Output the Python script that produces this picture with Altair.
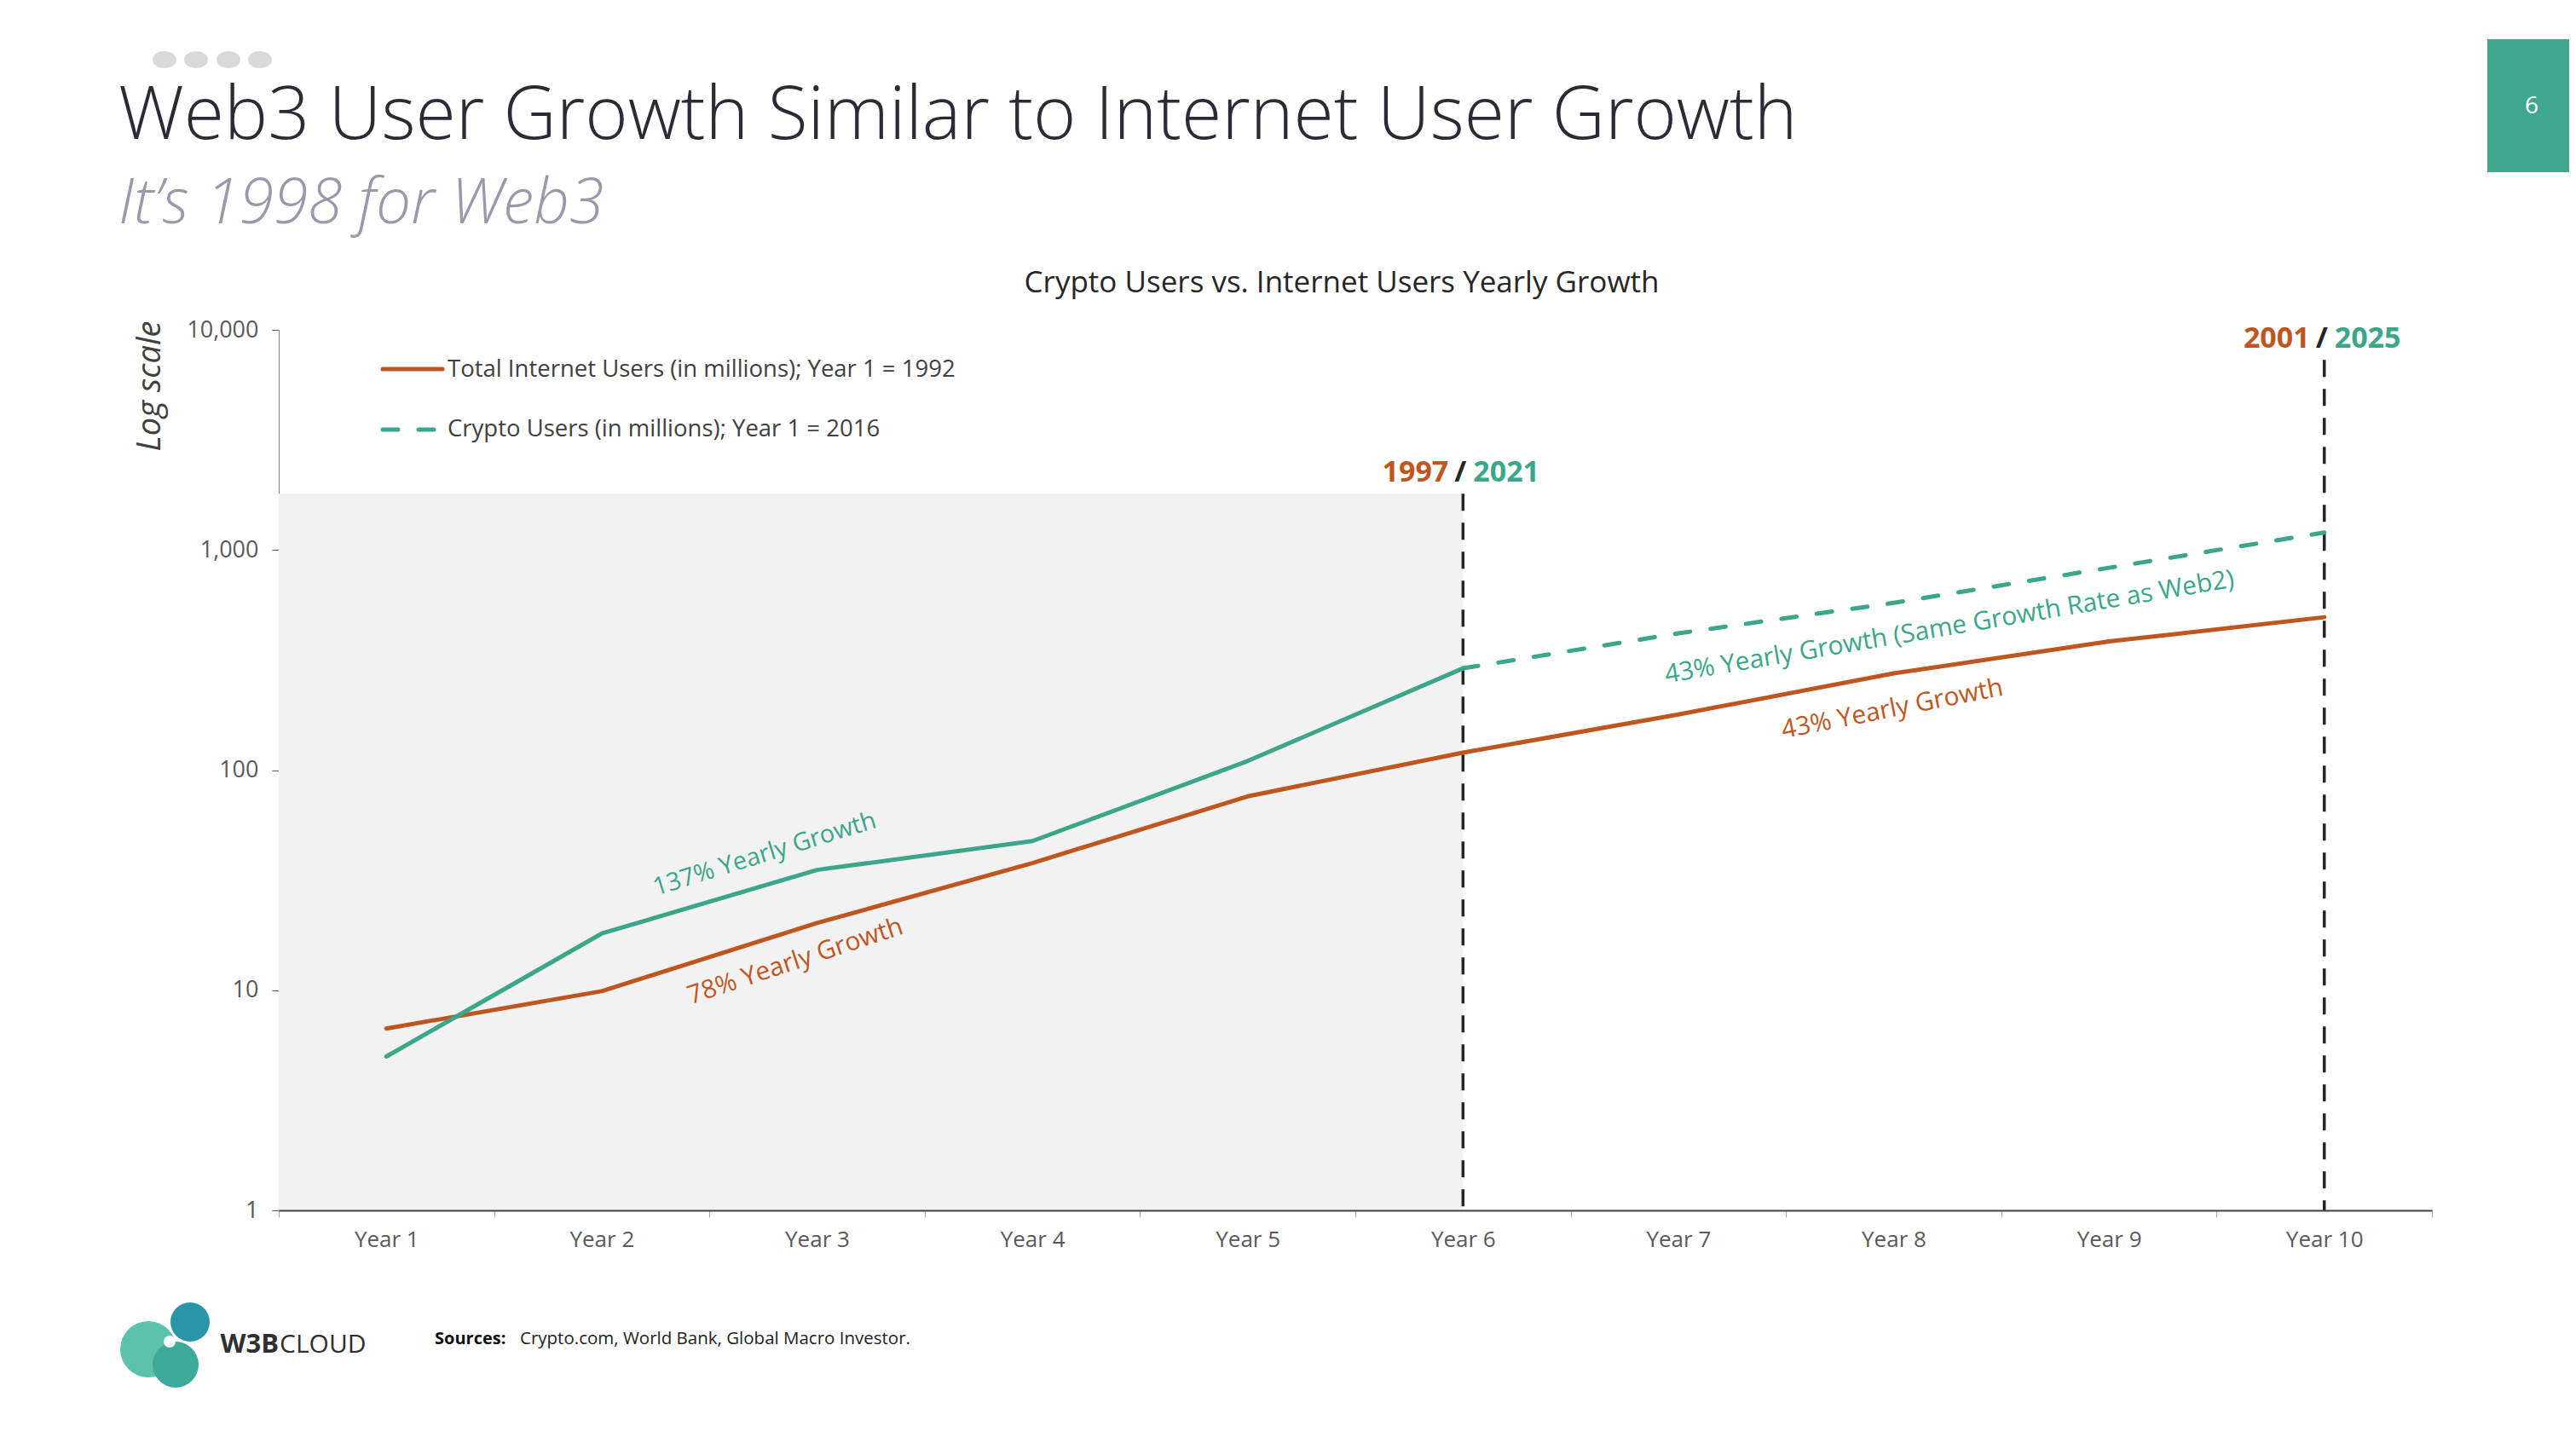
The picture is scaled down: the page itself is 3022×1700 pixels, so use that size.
import altair as alt
import pandas as pd

# ---------------- data ----------------
years = ["Year 1", "Year 2", "Year 3", "Year 4", "Year 5",
         "Year 6", "Year 7", "Year 8", "Year 9", "Year 10"]
internet_users = [6.7, 9.9, 20.2, 37.8, 76, 120, 179, 275, 384, 495]
crypto_years = ["Year 1", "Year 2", "Year 3", "Year 4", "Year 5", "Year 6"]
crypto_users = [5.0, 18.1, 35.2, 47.6, 110, 290]
projection_years = ["Year 6", "Year 7", "Year 8", "Year 9", "Year 10"]
crypto_projection = [290, 418, 575, 830, 1200]
shade_from = ["Year 1"]
shade_to = ["Year 6"]
shade_top = [1800]
marker_years = ["Year 6", "Year 10"]
marker_tops = [1800, 7300]
marker_internet_year = ["1997", "2001"]
marker_crypto_year = ["2021", "2025"]
y_ticks = [1, 10, 100, 1000, 10000]

# ---------------- style ----------------
FONT = "Open Sans"
ORANGE = "#C0561F"
GREEN = "#3BA68A"
DARK = "#262626"
OX, OY = 327, 387          # page position of plot origin
W, H = 2526, 1033          # plot area
TOTAL_W, TOTAL_H = 3006, 1660

def px(x):
    return x - OX

def py(y):
    return y - OY

x_scale = alt.Scale(type="band", domain=years, paddingInner=0, paddingOuter=0)
y_scale = alt.Scale(type="log", domain=[1, 10000], nice=False)

x_axis = alt.Axis(title=None, labelFont=FONT, labelFontSize=26, labelColor="#595959",
                  domainColor="#404040", domainWidth=2, tickColor="#a6a6a6", tickSize=8,
                  tickWidth=1, tickBand="extent", labelPadding=13, labelAngle=0)
y_axis = alt.Axis(title=None, values=y_ticks, format=",", labelFont=FONT, labelFontSize=27,
                  labelColor="#595959", domainColor="#7f7f7f", domainWidth=1,
                  tickColor="#595959", tickSize=8, labelPadding=16, grid=False)

# ---------------- data layers ----------------
shade_df = pd.DataFrame({"x0": shade_from, "x1": shade_to, "top": shade_top, "bot": [1]})
shade = alt.Chart(shade_df).mark_rect(color="#f2f2f2").encode(
    x=alt.X("x0:N", scale=x_scale, axis=x_axis, bandPosition=0),
    x2=alt.X2("x1:N", bandPosition=0.5),
    y=alt.Y("top:Q", scale=y_scale, axis=y_axis),
    y2="bot:Q",
)

marker_df = pd.DataFrame({"year": marker_years, "top": marker_tops, "bot": [1, 1],
                          "left": marker_internet_year, "right": marker_crypto_year,
                          "slash": ["/", "/"]})
rules = alt.Chart(marker_df).mark_rule(color=DARK, strokeWidth=3.5, strokeDash=[20, 14]).encode(
    x=alt.X("year:N", scale=x_scale, bandPosition=0.5),
    y=alt.Y("top:Q", scale=y_scale),
    y2="bot:Q",
)

inet_df = pd.DataFrame({"year": years, "users": internet_users})
inet = alt.Chart(inet_df).mark_line(color=ORANGE, strokeWidth=5, strokeCap="round",
                                    strokeJoin="round").encode(
    x=alt.X("year:N", scale=x_scale, bandPosition=0.5, sort=years),
    y=alt.Y("users:Q", scale=y_scale),
)

crypto_df = pd.DataFrame({"year": crypto_years, "users": crypto_users})
crypto = alt.Chart(crypto_df).mark_line(color=GREEN, strokeWidth=5, strokeCap="round",
                                        strokeJoin="round").encode(
    x=alt.X("year:N", scale=x_scale, bandPosition=0.5, sort=years),
    y=alt.Y("users:Q", scale=y_scale),
)

proj_df = pd.DataFrame({"year": projection_years, "users": crypto_projection})
proj = alt.Chart(proj_df).mark_line(color=GREEN, strokeWidth=5, strokeCap="round",
                                    strokeDash=[18, 24]).encode(
    x=alt.X("year:N", scale=x_scale, bandPosition=0.5, sort=years),
    y=alt.Y("users:Q", scale=y_scale),
)

def marker_text(field, color, align, dx):
    return alt.Chart(marker_df).mark_text(font=FONT, fontSize=34, fontWeight="bold",
                                          color=color, align=align, dx=dx, dy=-14,
                                          baseline="alphabetic").encode(
        x=alt.X("year:N", scale=x_scale, bandPosition=0.5),
        y=alt.Y("top:Q", scale=y_scale),
        text=f"{field}:N",
    )

mk_left = marker_text("left", ORANGE, "right", -17)
mk_slash = marker_text("slash", DARK, "center", -3)
mk_right = marker_text("right", GREEN, "left", 12)

# ---------------- decorations ----------------
one = pd.DataFrame({"k": [0]})

def txt(text, x, y, size, color, **kw):
    return alt.Chart(one).mark_text(text=text, font=FONT, fontSize=size, color=color, **kw).encode(
        x=alt.value(px(x)), y=alt.value(py(y)))

def hline(x1, x2, y, color, **kw):
    return alt.Chart(one).mark_rule(color=color, strokeWidth=5, strokeCap="round", **kw).encode(
        x=alt.value(px(x1)), x2=alt.value(px(x2)), y=alt.value(py(y)))

def dot(x, y, d, color, shape="circle"):
    return alt.Chart(one).mark_point(filled=True, opacity=1, shape=shape, size=d * d,
                                     color=color, strokeWidth=0).encode(
        x=alt.value(px(x)), y=alt.value(py(y)))

ELLIPSE = "M -1 0 A 1 0.72 0 1 1 1 0 A 1 0.72 0 1 1 -1 0 Z"
PAGE_RIGHT = 8 + TOTAL_W

decor = [
    # slide header
    txt("Web3 User Growth Similar to Internet User Growth", 139, 163, 86, "#2B2B36",
        align="left", baseline="alphabetic", fontWeight=300),
    txt("It\u2019s 1998 for Web3", 139, 262, 73, "#9A98AA", align="left",
        baseline="alphabetic", fontStyle="italic", fontWeight=300),
    dot(193, 70, 28, "#d9d9d9", ELLIPSE),
    dot(230, 70, 28, "#d9d9d9", ELLIPSE),
    dot(268, 70, 28, "#d9d9d9", ELLIPSE),
    dot(305, 70, 28, "#d9d9d9", ELLIPSE),
    alt.Chart(one).mark_rect(color="#3FA78D").encode(
        x=alt.value(px(2918)), x2=alt.value(px(PAGE_RIGHT)), y=alt.value(py(46)),
        y2=alt.value(py(202))),
    txt("6", 2970, 125, 28, "white", align="center", baseline="middle"),
    # chart title
    txt("Crypto Users vs. Internet Users Yearly Growth", 1574, 343, 35, DARK,
        align="center", baseline="alphabetic"),
    # y axis title
    txt("Log scale", 188, 453, 38, "#404040", align="center", baseline="alphabetic",
        angle=270, fontStyle="italic"),
    # legend
    hline(449, 519, 433, ORANGE),
    hline(449, 514, 504, GREEN, strokeDash=[18, 24]),
    txt("Total Internet Users (in millions); Year 1 = 1992", 525, 442, 27.5, "#404040",
        align="left", baseline="alphabetic"),
    txt("Crypto Users (in millions); Year 1 = 2016", 525, 512, 27.5, "#404040",
        align="left", baseline="alphabetic"),
    # growth annotations
    txt("137% Yearly Growth", 897, 1002, 29, GREEN, align="center", baseline="middle", angle=342.8),
    txt("78% Yearly Growth", 933, 1128, 30, ORANGE, align="center", baseline="middle", angle=341.6),
    txt("43% Yearly Growth (Same Growth Rate as Web2)", 2287, 736, 30, GREEN,
        align="center", baseline="middle", angle=350.4),
    txt("43% Yearly Growth", 2220, 832, 30, ORANGE, align="center", baseline="middle", angle=348.9),
    # footer: logo + sources
    dot(174, 1583, 66, "#5CC2A9"),
    dot(206, 1601, 54, "#3CA99A"),
    dot(223, 1551, 46, "#2A97A8"),
    dot(199, 1574, 14, "white"),
    txt("W3B", 327, 1587, 31, "#2f2f2f", align="right", baseline="alphabetic", fontWeight="bold"),
    txt("CLOUD", 328, 1587, 30, "#2f2f2f", align="left", baseline="alphabetic"),
    txt("Sources:", 510, 1577, 20, "#111111", align="left", baseline="alphabetic", fontWeight="bold"),
    txt("Crypto.com, World Bank, Global Macro Investor.", 610, 1577, 20.5, "#222222",
        align="left", baseline="alphabetic"),
]

chart = alt.layer(shade, rules, inet, crypto, proj, mk_left, mk_slash, mk_right, *decor).properties(
    width=W, height=H,
    autosize=alt.AutoSizeParams(type="none"),
    padding={"left": OX - 8, "top": OY - 8, "right": TOTAL_W - (OX - 8) - W,
             "bottom": TOTAL_H - (OY - 8) - H},
    background="white",
).configure(font=FONT, view=alt.ViewConfig(stroke=None))

chart.save("out.html", embed_options={"renderer": "svg", "actions": False})
